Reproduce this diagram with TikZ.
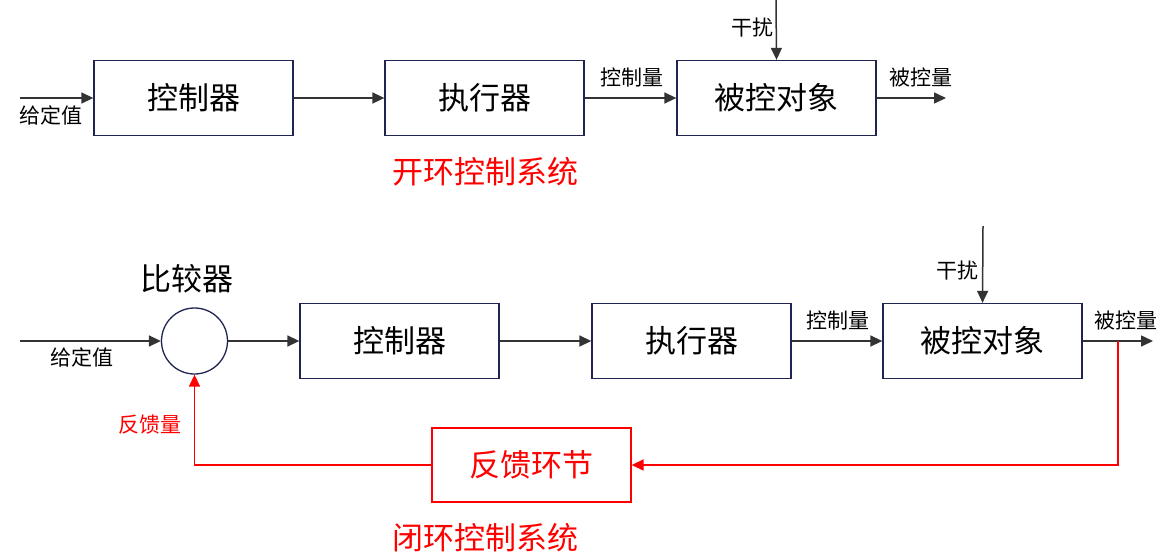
\documentclass[tikz,border=0pt]{standalone}
\usepackage{fontspec}
\setmainfont{Noto Sans CJK SC}
\usetikzlibrary{arrows.meta}
\definecolor{navy}{HTML}{1F2550}
\definecolor{linegray}{HTML}{333333}
\definecolor{fbred}{HTML}{FF0000}
\tikzset{
  blk/.style={draw=navy, line width=1.3pt, minimum width=199pt, minimum height=75pt, inner sep=0pt, font=\fontsize{31}{31}\selectfont},
  fbblk/.style={draw=fbred, line width=1.3pt, minimum width=199pt, minimum height=74pt, inner sep=0pt, font=\fontsize{31}{31}\selectfont, text=fbred},
  cmp/.style={draw=navy, line width=1.3pt, circle, minimum size=66pt, inner sep=0pt},
  sig/.style={draw=linegray, line width=1.5pt, -{Triangle[length=12pt,width=11pt]}},
  fbsig/.style={draw=fbred, line width=1.5pt, -{Triangle[length=12pt,width=11pt]}},
  lbl/.style={font=\fontsize{21}{21}\selectfont, inner sep=0pt},
  ttl/.style={font=\fontsize{31}{31}\selectfont, inner sep=0pt, text=fbred},
}
\begin{document}
\begin{tikzpicture}[x=1pt,y=-1pt]
\useasboundingbox (0,0) rectangle (1166,557);
% ---- open loop ----
\node[blk] (c1) at (193.5,98) {控制器};
\node[blk] (a1) at (484.5,98) {执行器};
\node[blk] (p1) at (776.5,98) {被控对象};
\coordinate (in1) at (20,98);
\coordinate (out1) at (946,98);
\coordinate (d1) at (776,0);
\draw[sig] (in1) -- (c1.west);
\draw[sig] (c1.east) -- (a1.west);
\draw[sig] (a1.east) -- (p1.west);
\draw[sig] (p1.east) -- (out1);
\draw[sig] (d1) -- (p1.north);
\node[lbl] (g1) at (51,115) {给定值};
\node[lbl] (u1) at (632,77) {控制量};
\node[lbl] (y1) at (921,77) {被控量};
\node[lbl] (n1) at (752,28) {干扰};
\node[ttl] (t1) at (485,172) {开环控制系统};
% ---- closed loop ----
\node[cmp] (s) at (194.5,341) {};
\node[font=\fontsize{31}{31}\selectfont, inner sep=0pt] (sl) at (187,279) {比较器};
\node[blk] (c2) at (399.5,341) {控制器};
\node[blk] (a2) at (691.5,341) {执行器};
\node[blk] (p2) at (982.5,341) {被控对象};
\node[fbblk] (f2) at (531.5,465) {反馈环节};
\coordinate (in2) at (20,341);
\coordinate (out2) at (1153,341);
\coordinate (d2) at (983,226);
\coordinate (tap) at (1118,341);
\draw[sig] (in2) -- (s.west);
\draw[sig] (s.east) -- (c2.west);
\draw[sig] (c2.east) -- (a2.west);
\draw[sig] (a2.east) -- (p2.west);
\draw[sig] (p2.east) -- (out2);
\draw[sig] (d2) -- (p2.north);
\draw[fbsig] (tap) |- (f2.east);
\draw[fbsig] (f2.west) -| (s.south);
\node[lbl] (g2) at (82,357) {给定值};
\node[lbl] (u2) at (838,320) {控制量};
\node[lbl] (y2) at (1126,320) {被控量};
\node[lbl] (n2) at (957,271) {干扰};
\node[lbl, text=fbred] (fb) at (150,425) {反馈量};
\node[ttl] (t2) at (485,538) {闭环控制系统};
\end{tikzpicture}
\end{document}
